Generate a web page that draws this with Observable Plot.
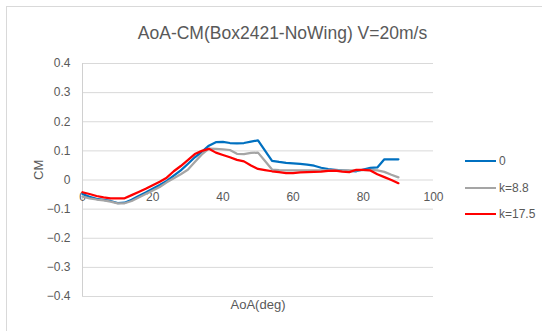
<!DOCTYPE html>
<html>
<head>
<meta charset="utf-8">
<script src="https://cdn.jsdelivr.net/npm/d3@7"></script>
<script src="https://cdn.jsdelivr.net/npm/@observablehq/plot@0.6"></script>
<style>
  body { margin: 0; background: #fff; font-family: "Liberation Sans", Arial, sans-serif; }
  #wrap { position: relative; width: 542px; height: 331px; overflow: hidden; }
  #border { position: absolute; left: 6px; top: 6px; width: 600px; height: 400px; border: 1px solid #d9d9d9; box-sizing: border-box; }
  #chart { position: absolute; left: 0; top: 0; }
  #legend { position: absolute; left: 465px; top: 0; font-size: 12px; color: #595959; }
  .item { position: absolute; left: 0; display: flex; align-items: center; white-space: nowrap; height: 14px; }
  .swatch { width: 31px; height: 0; border-top: 2.5px solid; margin-right: 3px; }
</style>
</head>
<body>
<div id="wrap">
  <div id="border"></div>
  <div id="chart"></div>
  <div id="legend"></div>
</div>
<script>
// Angle of attack sweep (deg)
const aoa = [0, 2, 4, 6, 8, 10, 12, 14, 16, 18, 20, 22, 24, 26, 28, 30, 32, 34, 36, 38, 40,
             42, 44, 46, 48, 50, 52, 54, 56, 58, 60, 62, 64, 66, 68, 70, 72, 74, 76, 78, 80,
             82, 84, 86, 88, 90];

// Pitching-moment coefficient for each k
const cmK0 = [-0.048, -0.058, -0.065, -0.068, -0.072, -0.079, -0.078, -0.068, -0.055, -0.043, -0.030,
              -0.017, -0.003, 0.015, 0.033, 0.055, 0.078, 0.097, 0.118, 0.130, 0.131,
              0.127, 0.126, 0.127, 0.132, 0.136, 0.101, 0.066, 0.062, 0.059, 0.057,
              0.055, 0.053, 0.049, 0.042, 0.037, 0.035, 0.033, 0.031, 0.030, 0.036,
              0.042, 0.043, 0.071, 0.071, 0.071];
const cmK88 = [-0.057, -0.063, -0.067, -0.070, -0.074, -0.080, -0.080, -0.072, -0.060, -0.048, -0.036,
               -0.024, -0.008, 0.006, 0.020, 0.035, 0.062, 0.088, 0.108, 0.107, 0.105,
               0.103, 0.090, 0.089, 0.093, 0.094, 0.065, 0.036, 0.034, 0.033, 0.033,
               0.033, 0.033, 0.033, 0.033, 0.033, 0.033, 0.033, 0.033, 0.033, 0.034,
               0.035, 0.033, 0.028, 0.018, 0.009];
const cmK175 = [-0.042, -0.048, -0.055, -0.060, -0.063, -0.063, -0.063, -0.052, -0.041, -0.030, -0.018,
                -0.006, 0.008, 0.030, 0.048, 0.068, 0.089, 0.100, 0.107, 0.094, 0.086,
                0.078, 0.069, 0.064, 0.050, 0.038, 0.034, 0.030, 0.027, 0.024, 0.024,
                0.026, 0.027, 0.028, 0.029, 0.031, 0.032, 0.029, 0.027, 0.035, 0.035,
                0.033, 0.020, 0.010, 0.000, -0.011];

const seriesNames = ["0", "k=8.8", "k=17.5"];
const seriesColors = ["#0070C0", "#A5A5A5", "#FF0000"];
const seriesValues = [cmK0, cmK88, cmK175];

const xTicks = [0, 20, 40, 60, 80, 100];
const yTicks = [-0.4, -0.3, -0.2, -0.1, 0, 0.1, 0.2, 0.3, 0.4];

const titleText = "AoA-CM(Box2421-NoWing) V=20m/s";
const xLabel = "AoA(deg)";
const yLabel = "CM";

const rows = seriesNames.flatMap((name, i) =>
  aoa.map((a, j) => ({series: name, aoa: a, cm: seriesValues[i][j]}))
);

const ink = "#595959";
const fmt = d => d === 0 ? "0" : d3.format(".1f")(d);

const chart = Plot.plot({
  width: 542,
  height: 331,
  marginLeft: 82,
  marginRight: 109,
  marginTop: 63,
  marginBottom: 35,
  style: {fontFamily: "'Liberation Sans', Arial, sans-serif", background: "transparent", color: ink},
  x: {domain: [0, 100], axis: null},
  y: {domain: [-0.4, 0.4], axis: null},
  color: {domain: seriesNames, range: seriesColors},
  marks: [
    Plot.gridY(yTicks, {stroke: "#d9d9d9", strokeOpacity: 1, strokeWidth: 1}),
    Plot.ruleX([0], {y1: -0.4, y2: 0.4, stroke: "#d0d0d0", strokeWidth: 1}),
    Plot.text(yTicks, {y: d => d, frameAnchor: "left", dx: -12, textAnchor: "end",
                       text: fmt, fontSize: 12, fill: ink}),
    Plot.text(xTicks, {x: d => d, y: 0, dy: 17, text: d => String(d), fontSize: 12, fill: ink}),
    Plot.line(rows, {x: "aoa", y: "cm", z: "series", stroke: "series",
                     strokeWidth: 2.25, strokeLinejoin: "round", strokeLinecap: "round"}),
    Plot.text([xLabel], {frameAnchor: "bottom", dy: 12, fontSize: 13, fill: ink}),
    Plot.text([yLabel], {frameAnchor: "left", dx: -44, rotate: -90, fontSize: 13, fill: ink}),
    Plot.text([titleText], {frameAnchor: "top", dx: 24.5, dy: -37, fontSize: 17.5, fill: ink})
  ]
});
document.getElementById("chart").appendChild(chart);

// Legend entries, top to bottom
const legendTops = [154, 181, 207];
const legend = d3.select("#legend");
seriesNames.forEach((name, i) => {
  const item = legend.append("div").attr("class", "item").style("top", legendTops[i] + "px");
  item.append("div").attr("class", "swatch").style("border-top-color", seriesColors[i]);
  item.append("span").text(name);
});
</script>
</body>
</html>
